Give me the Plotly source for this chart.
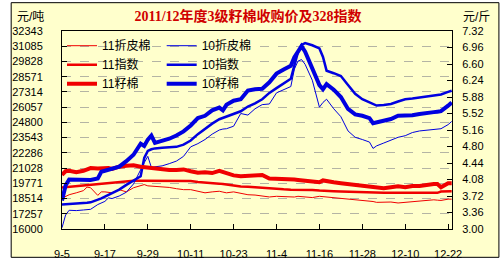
import plotly.graph_objects as go

DATES = ["2011-09-05","2011-09-06","2011-09-07","2011-09-09","2011-09-11","2011-09-12","2011-09-13",
         "2011-09-15","2011-09-16","2011-09-17","2011-09-18","2011-09-19","2011-09-21","2011-09-23",
         "2011-09-25","2011-09-27","2011-09-28","2011-09-29","2011-09-30","2011-10-01","2011-10-03",
         "2011-10-05","2011-10-07","2011-10-09","2011-10-11","2011-10-13","2011-10-15","2011-10-17",
         "2011-10-19","2011-10-20","2011-10-21","2011-10-23","2011-10-25","2011-10-27","2011-10-29",
         "2011-10-31","2011-11-02","2011-11-04","2011-11-06","2011-11-08","2011-11-09","2011-11-10",
         "2011-11-11","2011-11-12","2011-11-14","2011-11-16","2011-11-17","2011-11-18","2011-11-20",
         "2011-11-22","2011-11-24","2011-11-26","2011-11-28","2011-11-30","2011-12-01","2011-12-02",
         "2011-12-04","2011-12-06","2011-12-08","2011-12-10","2011-12-12","2011-12-14","2011-12-16",
         "2011-12-18","2011-12-19","2011-12-20","2011-12-22","2011-12-23"]

# 元/吨 (left axis)
LINT_11 = [18540,18700,18829,18986,19169,19457,19405,18776,19064,19064,19010,18986,19248,19064,
           19405,19562,19666,19562,19540,19509,19509,19431,19326,19248,19248,19117,18986,19064,
           19117,19050,18986,19064,18933,18829,18802,18750,18645,18698,18671,18593,18640,18698,
           18680,18671,18593,18698,18670,18645,18593,18540,18488,18436,18383,18331,18270,18200,
           18200,18226,18148,18200,18279,18331,18383,18409,18380,18357,18462,18462]
INDEX_11 = [19431,19460,19483,19509,19562,19590,19614,19667,19700,19745,19770,19798,19876,19929,
            19981,19981,19981,19981,19981,19981,19981,19981,19981,19955,19955,19876,19850,19798,
            19745,19710,19667,19588,19509,19483,19431,19405,19352,19300,19274,19248,19248,19248,
            19248,19248,19221,19169,19169,19169,19117,19090,19064,19038,19012,18986,18986,18986,
            18986,18986,18986,18986,18986,18986,18986,18986,18986,19090,19117,19117]
LINT_10 = [16105,17152,17545,17519,17571,17600,17624,18017,18150,18279,18567,18514,18724,19038,
           19719,20950,21474,21998,21081,21133,21212,21395,21605,21998,22783,23045,23386,23831,
           24171,24250,24276,24486,25533,25402,25926,26266,26319,27236,27497,27759,29200,29855,
           29985,29593,28283,26057,26450,26712,25926,25271,24093,23569,23386,23176,22652,22862,
           23097,23307,23569,23700,23962,24093,24171,24224,24250,24276,24617,24878]
INDEX_10 = [18017,18030,18043,18069,18121,18160,18200,18383,18530,18671,18800,18933,19248,19640,
            19981,20348,21867,22440,22580,22652,22705,22731,22783,22966,23307,23831,24276,24695,
            25062,25170,25271,25481,25717,26109,26371,26712,27236,27628,28021,28400,29500,30600,
            31200,31347,31164,30902,30200,29069,28859,28624,27890,27157,26712,26450,26320,26188,
            26240,26319,26528,26712,26764,26843,26974,27053,27080,27105,27314,27419]
# 元/斤 (right axis)
SEED_11 = [4.18,4.26,4.27,4.24,4.27,4.30,4.33,4.32,4.33,4.34,4.33,4.31,4.36,4.38,4.39,4.36,4.35,
           4.34,4.33,4.32,4.31,4.29,4.29,4.30,4.26,4.23,4.24,4.22,4.27,4.24,4.22,4.17,4.15,4.16,
           4.18,4.18,4.10,4.10,4.10,4.09,4.08,4.07,4.06,4.05,4.03,4.02,4.06,4.04,4.02,4.00,3.98,
           3.96,3.94,3.91,3.90,3.89,3.89,3.91,3.93,3.91,3.94,3.94,3.97,3.98,3.98,3.91,4.00,4.00]
SEED_10 = [3.62,3.95,4.08,4.07,4.07,4.07,4.07,4.10,4.25,4.27,4.29,4.30,4.36,4.48,4.62,4.86,4.81,
           4.95,5.04,4.88,4.92,4.97,5.04,5.13,5.26,5.42,5.47,5.59,5.65,5.59,5.71,5.80,5.83,6.02,
           6.05,6.06,6.20,6.39,6.48,6.56,6.75,6.87,6.99,6.87,6.52,6.14,6.05,6.16,6.04,5.88,5.62,
           5.50,5.47,5.42,5.31,5.33,5.36,5.40,5.47,5.47,5.48,5.51,5.52,5.55,5.56,5.57,5.69,5.76]

X_TICKS = ["2011-09-05","2011-09-17","2011-09-29","2011-10-11","2011-10-23",
           "2011-11-04","2011-11-16","2011-11-28","2011-12-10","2011-12-22"]
X_LABELS = ["9-5","9-17","9-29","10-11","10-23","11-4","11-16","11-28","12-10","12-22"]
Y_LABELS = ["16000","17257","18514","19771","21028","22286","23543","24800",
            "26057","27314","28571","29828","31085","32343"]
Y2_LABELS = ["3.00","3.36","3.72","4.08","4.44","4.80","5.16","5.52",
             "5.88","6.24","6.60","6.96","7.32"]

RED = "#F00000"
BLUE = "#0000E0"
BG = "#FFFFCC"
FONT = "Liberation Sans, Noto Sans CJK SC, sans-serif"

fig = go.Figure()
specs = [
    ("11折皮棉", LINT_11, RED, 1, "y", "legend"),
    ("11指数", INDEX_11, RED, 2.5, "y", "legend"),
    ("11籽棉", SEED_11, RED, 4, "y2", "legend"),
    ("10折皮棉", LINT_10, BLUE, 1, "y", "legend2"),
    ("10指数", INDEX_10, BLUE, 2.5, "y", "legend2"),
    ("10籽棉", SEED_10, BLUE, 4, "y2", "legend2"),
]
for name, vals, col, w, ax, lg in specs:
    fig.add_trace(go.Scatter(x=DATES, y=vals, name=name, mode="lines",
                             line=dict(color=col, width=w), yaxis=ax, legend=lg))

fig.update_layout(
    width=502, height=272,
    margin=dict(l=53, r=50, t=31, b=34),
    paper_bgcolor="white", plot_bgcolor=BG,
    font=dict(family=FONT, size=11, color="black"),
    title=dict(text="2011/12年度3级籽棉收购价及328指数", x=0.494, y=0.94,
               xanchor="center", yanchor="middle",
               font=dict(family="Liberation Serif, Noto Sans CJK SC, serif", size=14,
                         color="#D00000", weight="bold")),
    xaxis=dict(type="date", range=["2011-09-05", "2011-12-23 02:00"],
               tickvals=X_TICKS, ticktext=X_LABELS, ticks="inside", ticklen=5,
               tickcolor="black", showline=True, linecolor="black", linewidth=1,
               mirror=True, showgrid=False, zeroline=False, ticklabelstandoff=15,
               tickfont=dict(size=11)),
    yaxis=dict(range=[16000, 32343], tickvals=[float(v) for v in Y_LABELS], ticktext=Y_LABELS,
               ticks="inside", ticklen=5, tickcolor="black", showline=True,
               linecolor="black", linewidth=1, showgrid=True, gridcolor="#B4B4A4",
               griddash="dash", gridwidth=1, zeroline=False, ticklabelstandoff=16,
               tickfont=dict(size=11)),
    yaxis2=dict(range=[3.0, 7.32], tickvals=[float(v) for v in Y2_LABELS], ticktext=Y2_LABELS,
                overlaying="y", side="right", ticks="inside", ticklen=5, tickcolor="black",
                showline=True, linecolor="black", linewidth=1, showgrid=False,
                zeroline=False, ticklabelstandoff=7, tickfont=dict(size=11)),
    legend=dict(x=0.0, y=0.999, xanchor="left", yanchor="top", bgcolor="rgba(0,0,0,0)",
                font=dict(size=12, family=FONT), itemwidth=30),
    legend2=dict(x=0.2556, y=0.999, xanchor="left", yanchor="top", bgcolor="rgba(0,0,0,0)",
                 font=dict(size=12, family=FONT), itemwidth=30),
    shapes=[
        dict(type="rect", xref="paper", yref="paper", x0=-0.1303, x1=1.1203, y0=-0.143,
             y1=1.143, line=dict(color="black", width=1), fillcolor=BG, layer="below"),
        dict(type="rect", xref="paper", yref="paper", x0=0.002, x1=0.508, y0=0.724, y1=0.972,
             line=dict(width=0), fillcolor=BG, layer="between"),
    ],
    annotations=[
        dict(text="元/吨", xref="paper", yref="paper", x=-0.080, y=1.0708, showarrow=False,
             xanchor="center", yanchor="middle", font=dict(size=12, family=FONT)),
        dict(text="元/斤", xref="paper", yref="paper", x=1.0627, y=1.0708, showarrow=False,
             xanchor="center", yanchor="middle", font=dict(size=12, family=FONT)),
    ],
)
fig.write_html("out.html")
